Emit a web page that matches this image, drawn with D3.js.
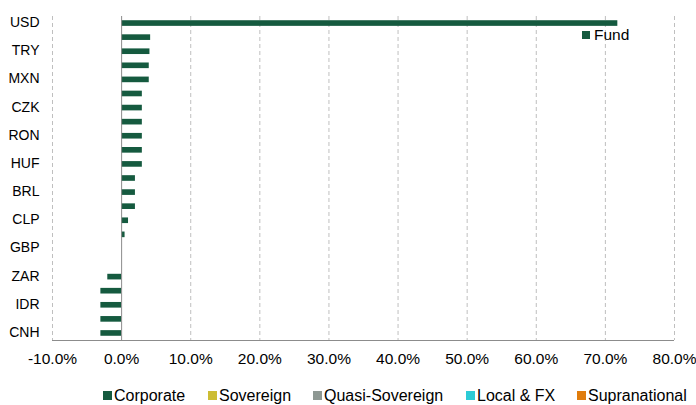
<!DOCTYPE html>
<html><head><meta charset="utf-8">
<script src="https://cdn.jsdelivr.net/npm/d3@7"></script>
<style>body{margin:0;background:#fff}svg{display:block}text{font-family:"Liberation Sans",Arial,sans-serif}</style>
</head><body><svg id="c" width="696" height="405"></svg>
<script>
const categories = ["USD","c1","TRY","c3","MXN","c5","CZK","c7","RON","c9","HUF","c11","BRL","c13","CLP","c15","GBP","c17","ZAR","c19","IDR","c21","CNH"];
const labelledCategories = ["USD","TRY","MXN","CZK","RON","HUF","BRL","CLP","GBP","ZAR","IDR","CNH"];
const fundValues = [71.8,4.2,4.1,4.0,4.0,3.0,3.0,3.0,3.0,3.0,3.0,2.0,2.0,2.0,1.0,0.5,0,0,-2.0,-3.0,-3.0,-3.0,-3.0];
const xTicks = [-10,0,10,20,30,40,50,60,70,80];
const legendItems = ["Corporate","Sovereign","Quasi-Sovereign","Local & FX","Supranational"];
const legendColors = ["#155a3f","#cdbd33","#8e9893","#2ccbd6","#e07c0c"];

const svg = d3.select("#c");
const x = d3.scaleLinear().domain([-10,80]).range([52,674]);
const y = d3.scaleBand().domain(categories).range([16,340]).paddingInner(0.6).paddingOuter(0.3);

// gridlines
svg.append("g").selectAll("line").data(xTicks.filter(d=>d!==0)).join("line")
  .attr("x1",d=>x(d)+0.5).attr("x2",d=>x(d)+0.5).attr("y1",16).attr("y2",340)
  .attr("stroke","#bfbfbf").attr("stroke-dasharray","4,3").attr("stroke-width",1);

// bars
svg.append("g").selectAll("rect").data(categories).join("rect")
  .attr("x",(d,i)=>x(Math.min(0,fundValues[i])))
  .attr("width",(d,i)=>Math.abs(x(fundValues[i])-x(0)))
  .attr("y",d=>y(d)).attr("height",y.bandwidth())
  .attr("fill","#155a3f");

// axes lines
svg.append("line").attr("x1",x(0)+0.5).attr("x2",x(0)+0.5).attr("y1",16).attr("y2",340).attr("stroke","#8c8c8c");
svg.append("line").attr("x1",52).attr("x2",674).attr("y1",340.5).attr("y2",340.5).attr("stroke","#8c8c8c");

// x tick labels
const xa = d3.axisBottom(x).tickValues(xTicks).tickFormat(d=>d.toFixed(1)+"%").tickSize(0).tickPadding(0);
const gx = svg.append("g").attr("transform","translate(0,353)").call(xa);
gx.select(".domain").remove();
gx.selectAll("text").attr("font-size",15.5).attr("fill","#000").attr("font-family","Liberation Sans, Arial, sans-serif").attr("dy","0.71em");

// y labels
const ya = d3.axisLeft(y).tickValues(labelledCategories).tickSize(0).tickPadding(0);
const gy = svg.append("g").attr("transform","translate(39.5,-0.5)").call(ya);
gy.select(".domain").remove();
gy.selectAll("text").attr("font-size",14).attr("fill","#000").attr("font-family","Liberation Sans, Arial, sans-serif");

// Fund legend
svg.append("rect").attr("x",582).attr("y",31).attr("width",8).attr("height",8).attr("fill","#155a3f");
svg.append("text").attr("x",594).attr("y",35).attr("dy","0.35em").attr("font-size",15.5).text("Fund");

// bottom legend
const lx = [103,208,313,466,577];
const lg = svg.append("g").selectAll("g").data(legendItems).join("g").attr("transform",(d,i)=>`translate(${lx[i]},395.5)`);
lg.append("rect").attr("x",0).attr("y",-4.5).attr("width",9).attr("height",9).attr("fill",(d,i)=>legendColors[i]);
lg.append("text").attr("x",11).attr("dy","0.35em").attr("font-size",16).text(d=>d);
</script></body></html>
